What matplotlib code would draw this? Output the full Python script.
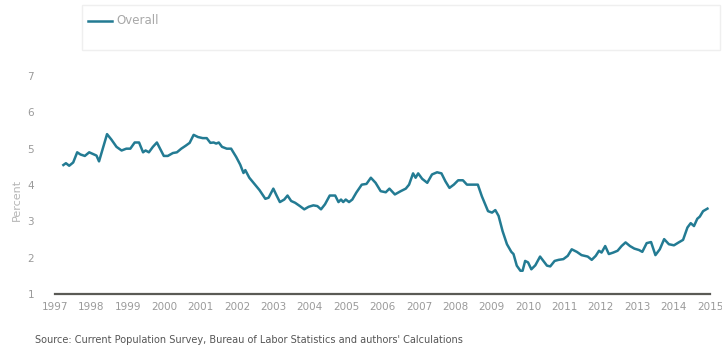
import matplotlib
matplotlib.use("Agg")
import matplotlib.pyplot as plt
from matplotlib.patches import Rectangle
from matplotlib import font_manager

# Data (decimal year, percent)
years = [1997.23, 1997.30, 1997.39, 1997.50, 1997.61, 1997.70, 1997.82, 1997.94,
         1998.07, 1998.14, 1998.21, 1998.43, 1998.55, 1998.69, 1998.83, 1998.96,
         1999.07, 1999.19, 1999.31, 1999.42, 1999.49, 1999.58, 1999.69, 1999.80,
         1999.99, 2000.10, 2000.24, 2000.35, 2000.47, 2000.59, 2000.70, 2000.81,
         2000.93, 2001.06, 2001.17, 2001.27, 2001.36, 2001.43, 2001.50, 2001.59,
         2001.72, 2001.84, 2001.98, 2002.09, 2002.18, 2002.23, 2002.34, 2002.48,
         2002.62, 2002.78, 2002.87, 2003.00, 2003.09, 2003.18, 2003.30, 2003.39,
         2003.49, 2003.60, 2003.73, 2003.85, 2003.97, 2004.10, 2004.21, 2004.31,
         2004.42, 2004.55, 2004.70, 2004.79, 2004.86, 2004.92, 2004.99, 2005.08,
         2005.17, 2005.28, 2005.43, 2005.56, 2005.68, 2005.81, 2005.95, 2006.09,
         2006.19, 2006.34, 2006.50, 2006.64, 2006.73, 2006.84, 2006.91, 2006.98,
         2007.09, 2007.23, 2007.36, 2007.50, 2007.62, 2007.73, 2007.84, 2007.96,
         2008.08, 2008.21, 2008.32, 2008.51, 2008.62, 2008.73, 2008.90, 2009.01,
         2009.10, 2009.19, 2009.30, 2009.42, 2009.54, 2009.60, 2009.69, 2009.79,
         2009.85, 2009.92, 2010.00, 2010.09, 2010.20, 2010.33, 2010.42, 2010.52,
         2010.61, 2010.73, 2010.84, 2010.97, 2011.09, 2011.20, 2011.34, 2011.47,
         2011.64, 2011.75, 2011.86, 2011.95, 2012.02, 2012.12, 2012.22, 2012.34,
         2012.46, 2012.57, 2012.68, 2012.80, 2012.92, 2013.05, 2013.14, 2013.26,
         2013.38, 2013.50, 2013.62, 2013.74, 2013.87, 2014.01, 2014.14, 2014.26,
         2014.38, 2014.47, 2014.56, 2014.65, 2014.72, 2014.81, 2014.93]
overall = [4.55, 4.60, 4.53, 4.62, 4.90, 4.84, 4.80, 4.90,
           4.84, 4.81, 4.65, 5.40, 5.25, 5.05, 4.95, 5.00,
           5.00, 5.17, 5.17, 4.90, 4.95, 4.90, 5.05, 5.17,
           4.80, 4.80, 4.88, 4.90, 5.00, 5.08, 5.16, 5.38,
           5.32, 5.29, 5.29, 5.16, 5.17, 5.14, 5.17, 5.05,
           5.00, 5.00, 4.77, 4.56, 4.33, 4.41, 4.20, 4.03,
           3.86, 3.62, 3.65, 3.90, 3.71, 3.53, 3.60, 3.71,
           3.56, 3.51, 3.42, 3.33, 3.40, 3.44, 3.42, 3.33,
           3.47, 3.71, 3.71, 3.53, 3.60, 3.53, 3.60, 3.53,
           3.60, 3.79, 4.01, 4.03, 4.20, 4.06, 3.83, 3.80,
           3.90, 3.74, 3.83, 3.90, 4.01, 4.32, 4.20, 4.32,
           4.17, 4.06, 4.29, 4.35, 4.32, 4.10, 3.92, 4.01,
           4.13, 4.13, 4.01, 4.01, 4.01, 3.69, 3.28, 3.24,
           3.31, 3.15, 2.73, 2.37, 2.16, 2.10, 1.78, 1.64,
           1.64, 1.91, 1.87, 1.68, 1.79, 2.03, 1.91, 1.78,
           1.76, 1.91, 1.94, 1.96, 2.05, 2.23, 2.16, 2.07,
           2.03, 1.94, 2.05, 2.19, 2.14, 2.32, 2.10, 2.14,
           2.19, 2.32, 2.42, 2.32, 2.25, 2.21, 2.16, 2.40,
           2.43, 2.07, 2.23, 2.51, 2.37, 2.34, 2.42, 2.49,
           2.83, 2.95, 2.87, 3.07, 3.13, 3.28, 3.35]

year_ticks = list(range(1997, 2016))
y_ticks = [1, 2, 3, 4, 5, 6, 7]
series_label = "Overall"
y_label = "Percent"
source = "Source: Current Population Survey, Bureau of Labor Statistics and authors' Calculations"

installed = {f.name for f in font_manager.fontManager.ttflist}
narrow = "Liberation Sans Narrow" if "Liberation Sans Narrow" in installed else "DejaVu Sans"
plt.rcParams["font.family"] = [narrow, "DejaVu Sans"]

W, H = 722, 348
fig = plt.figure(figsize=(W / 100, H / 100), dpi=100)
fig.patch.set_facecolor("white")

left, right = 55 / W, 710 / W
bottom, top = 1 - 294 / H, 1 - 76 / H
ax = fig.add_axes([left, bottom, right - left, top - bottom])

line_color = "#237b93"
ax.plot(years, overall, color=line_color, lw=1.8, solid_joinstyle="round")

ax.set_xlim(1997, 2015)
ax.set_ylim(1, 7)
ax.set_xticks(year_ticks)
ax.set_xticklabels([str(y) for y in year_ticks])
ax.set_yticks(y_ticks)
ax.tick_params(axis="both", length=0, labelsize=7.5, labelcolor="#9a9a9a")
ax.tick_params(axis="x", pad=6)
ax.tick_params(axis="y", pad=15)
for s in ["left", "right", "top"]:
    ax.spines[s].set_visible(False)
ax.spines["bottom"].set_color("#5a5a55")
ax.spines["bottom"].set_linewidth(1.6)

fig.text(17 / W, 1 - 200 / H, y_label, rotation=90, ha="center", va="center",
         fontsize=8, color="#b5b5b5")

# Legend box
fig.patches.append(Rectangle((82 / W, 1 - 50 / H), (720 - 82) / W, 45 / H,
                             transform=fig.transFigure, facecolor="none",
                             edgecolor="#efefef", lw=1.0))
fig.lines.append(plt.Line2D([88 / W, 112 / W], [1 - 21 / H, 1 - 21 / H],
                            transform=fig.transFigure, color=line_color, lw=1.8))
fig.text(116 / W, 1 - 21 / H, series_label, ha="left", va="center",
         fontsize=8.5, color="#a8a8a8")

fig.text(35 / W, 1 - 340 / H, source, ha="left", va="center",
         fontsize=7, color="#555555")

fig.savefig("out.png", dpi=100)
